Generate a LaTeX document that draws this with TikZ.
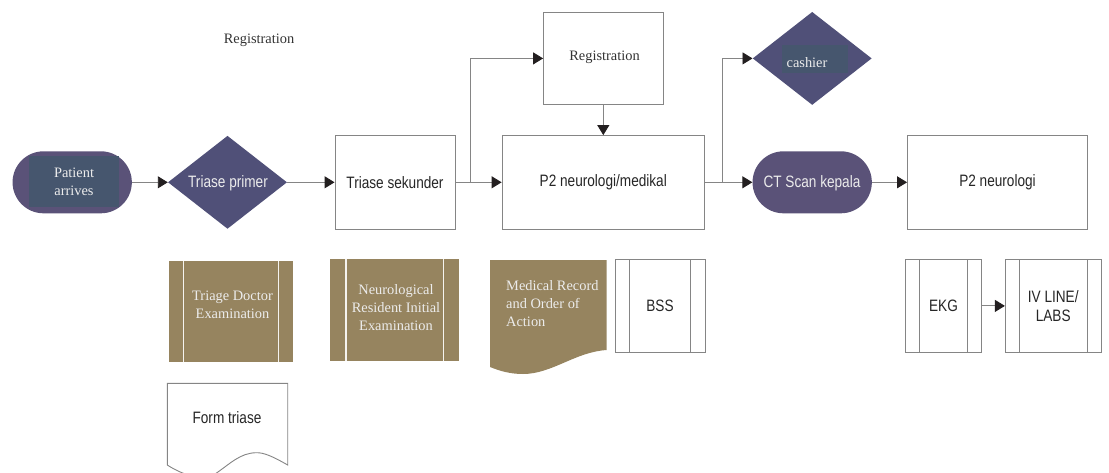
\documentclass[tikz,border=0pt]{standalone}
\usepackage{fontspec}
\setmainfont{Liberation Serif}
\newfontfamily\narrowsans[FakeStretch=0.825]{Liberation Sans}
\usetikzlibrary{arrows.meta,shapes.geometric,shapes.misc}
\definecolor{lineg}{HTML}{858585}
\definecolor{tipk}{HTML}{231F20}
\definecolor{dia}{HTML}{505078}
\definecolor{term}{HTML}{5A5278}
\definecolor{inner}{HTML}{46566E}
\definecolor{olive}{HTML}{96845F}
\definecolor{txtw}{HTML}{ECECEC}
\tikzset{
  conn/.style={draw=lineg,line width=0.9pt,-{Triangle[length=10pt,width=12pt,color=tipk]}},
  serifw/.style={font=\fontsize{14.4}{18}\selectfont,text=txtw,align=center,inner sep=0pt},
  serifk/.style={font=\fontsize{14.4}{18}\selectfont,text=black!80,align=center,inner sep=0pt},
  sansw/.style={font=\narrowsans\fontsize{16.5}{19}\selectfont,text=txtw,align=center,inner sep=0pt},
  sansk/.style={font=\narrowsans\fontsize{16.5}{19}\selectfont,text=black!85,align=center,inner sep=0pt},
  boxed/.style={draw=lineg,line width=0.9pt,fill=white,rectangle,inner sep=0pt},
  termshape/.style={rounded rectangle,fill=term,minimum width=119.3pt,minimum height=62pt,inner sep=0pt},
  diashape/.style={diamond,fill=dia,minimum width=119pt,minimum height=93pt,inner sep=0pt,aspect=1.28},
  innerbox/.style={fill=inner,inner sep=0pt,rectangle},
  procwhite/.style={boxed,path picture={
    \draw[lineg,line width=0.9pt] ([xshift=#1]path picture bounding box.north west) -- ([xshift=#1]path picture bounding box.south west);
    \draw[lineg,line width=0.9pt] ([xshift=-#1]path picture bounding box.north east) -- ([xshift=-#1]path picture bounding box.south east);}},
  procolive/.style={rectangle,fill=olive,inner sep=0pt,path picture={
    \draw[white!90!olive,line width=1.5pt] ([xshift=#1]path picture bounding box.north west) -- ([xshift=#1]path picture bounding box.south west);
    \draw[white!90!olive,line width=1.5pt] ([xshift=-#1]path picture bounding box.north east) -- ([xshift=-#1]path picture bounding box.south east);}},
}
\begin{document}
\begin{tikzpicture}[x=1pt,y=-1pt]
\useasboundingbox (0,0) rectangle (1109,472);
\clip (0,0) rectangle (1109,472);
% top label
\node[serifk] (toplabel) at (259,40) {Registration};
% main row
\node[termshape] (patient) at (72.2,182.3) {};
\node[innerbox,minimum width=90pt,minimum height=51pt] (patinner) at (74,181.5) {};
\node[serifw] (pattext) at (74,182) {Patient\\arrives};
\node[diashape] (primer) at (227.5,182.3) {};
\node[sansw] (primertext) at (228,183) {Triase primer};
\node[boxed,minimum width=120pt,minimum height=93.5pt,sansk] (sekunder) at (395,182.3) {Triase sekunder};
\node[boxed,minimum width=202.5pt,minimum height=93.5pt,sansk] (p2med) at (603.3,182.3) {P2 neurologi/medikal};
\node[boxed,minimum width=119.5pt,minimum height=92.7pt,serifk] (reg) at (603.3,58.4) {};
\node[serifk] (regtext) at (604.5,57.5) {Registration};
\node[diashape] (cash) at (812.2,58.4) {};
\node[innerbox,minimum width=66pt,minimum height=28pt] (cashinner) at (814.7,59.3) {};
\begin{scope}
\clip (781.7,45.3) rectangle (847.7,66);
\node[serifw,anchor=base] (cashtext) at (807,67.5) {cashier};
\end{scope}
\node[termshape] (ct) at (812.2,182.3) {};
\node[sansw] (cttext) at (812,183) {CT Scan kepala};
\node[boxed,minimum width=180pt,minimum height=93.5pt,sansk] (p2neu) at (997.5,182.3) {P2 neurologi};
% connectors
\coordinate (branchA) at (470.7,182.3);
\coordinate (branchB) at (722.3,182.3);
\draw[conn] (patient.east) -- (primer.west);
\draw[conn] (primer.east) -- (sekunder.west);
\draw[conn] (sekunder.east) -- (p2med.west);
\draw[conn] (branchA) -- (branchA |- reg.west) -- (reg.west);
\draw[conn] (reg.south) -- (reg.south |- p2med.north);
\draw[conn] (p2med.east) -- (ct.west);
\draw[conn] (branchB) -- (branchB |- cash.west) -- (cash.west);
\draw[conn] (ct.east) -- (p2neu.west);
% lower row
\node[procolive=15pt,minimum width=124.6pt,minimum height=101pt] (triage) at (231,311.5) {};
\node[serifw] (triagetext) at (232.5,305) {Triage Doctor\\Examination};
\node[procolive=15.4pt,minimum width=128.7pt,minimum height=101.7pt] (resident) at (394.7,310.2) {};
\node[serifw] (residenttext) at (396,307.5) {Neurological\\Resident Initial\\Examination};
\fill[olive] (490,260) -- (606.7,260) -- (606.7,350)
  .. controls (575,352) and (552,374) .. (523,374)
  .. controls (510,374) and (500,371) .. (490,367) -- cycle;
\coordinate (medcorner) at (506,304);
\node[serifw,anchor=west,align=left] (medtext) at (medcorner) {Medical Record\\and Order of\\Action};
\node[procwhite=14.3pt,minimum width=90pt,minimum height=92.8pt,sansk] (bss) at (660,305.9) {BSS};
\node[procwhite=14pt,minimum width=76.4pt,minimum height=92.8pt,sansk] (ekg) at (943.5,305.9) {EKG};
\node[procwhite=14pt,minimum width=95.7pt,minimum height=92.8pt,sansk] (iv) at (1053.2,305.9) {IV LINE/\\LABS};
\draw[conn] (ekg.east) -- (iv.west);
\draw[lineg,line width=0.9pt,fill=white] (167.3,465) -- (167.3,383.3) -- (287.7,383.3) -- (287.7,465)
  .. controls (272,456) and (264,452.7) .. (256.7,452.7)
  .. controls (240,452.7) and (230,464) .. (215,474)
  -- (190,476) .. controls (180,472) and (175,470) .. (167.3,465) -- cycle;
\node[sansk] (formtext) at (227,418) {Form triase};
\end{tikzpicture}
\end{document}
